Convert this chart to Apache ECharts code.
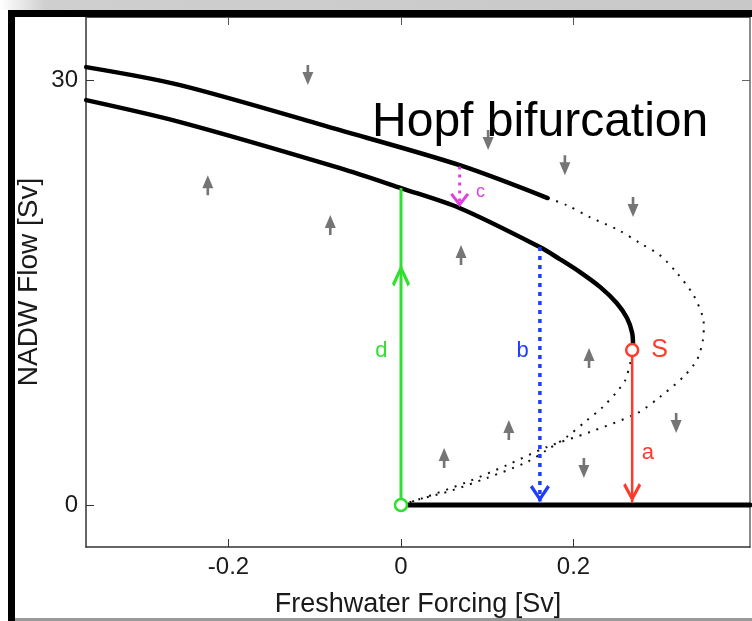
<!DOCTYPE html>
<html><head><meta charset="utf-8">
<script src="https://cdn.jsdelivr.net/npm/echarts@6/dist/echarts.min.js"></script>
<style>html,body{margin:0;padding:0;background:#fff}#c{width:752px;height:621px}</style>
</head><body><div id="c"></div>
<script>
// ---- data ----
const xTicks = [-0.2, 0, 0.2];
const yTicks = [0, 30];
const upperStableX = [-0.365, -0.256, -0.0707, 0.068, 0.170];
const upperStableY = [30.91, 29.64, 26.46, 23.99, 21.67];
const lowerStableX = [-0.365, -0.256, -0.0707, 0, 0.0684, 0.161, 0.184, 0.2075, 0.231, 0.250, 0.262, 0.268, 0.269];
const lowerStableY = [28.58, 27.03, 23.78, 22.37, 20.95, 18.21, 17.36, 16.44, 15.38, 14.26, 13.2, 12.14, 11.2];
const unstableOuterX = [0.170, 0.192, 0.219, 0.252, 0.277, 0.300, 0.320, 0.339, 0.350, 0.351, 0.350, 0.343, 0.327, 0.300, 0.274, 0.219, 0.169, 0.123, 0.0765, 0.0255, 0];
const unstableOuterY = [21.67, 21.17, 20.32, 19.41, 18.49, 17.64, 16.37, 14.82, 13.27, 12.6, 11.64, 10.23, 9.03, 7.62, 6.49, 5.15, 4.09, 2.82, 1.62, 0.49, 0];
const unstableInnerX = [0, 0.022, 0.057, 0.0997, 0.146, 0.169, 0.192, 0.216, 0.234, 0.252, 0.260, 0.266, 0.268];
const unstableInnerY = [0, 0.42, 0.99, 1.91, 3.03, 3.88, 4.80, 6.00, 6.92, 8.12, 8.82, 10.09, 10.94];
const offBranchX = [0, 0.4046];
const offBranchY = [0, 0];
// transitions a-d : x, yStart, yEnd
const transA = [0.268, 10.6, 0.15];
const transB = [0.161, 18.21, 0.25];
const transC = [0.068, 23.9, 21.2];
const transD = [0, 0, 22.37];
const arrowHeadD = [0, 16.2];
const arrowHeadB = [0.161, 0.81];
const arrowHeadA = [0.268, 0.88];
const arrowHeadC = [0.068, 21.53];
const pointS = [0.268, 10.94];
const pointOrigin = [0, 0];
// gray flow-direction arrows
const grayUpX = [-0.224, -0.082, 0.0696, 0.218, 0.125, 0.050];
const grayUpY = [22.58, 19.76, 17.64, 10.37, 5.29, 3.32];
const grayDownX = [-0.108, 0.101, 0.190, 0.269, 0.319, 0.212];
const grayDownY = [30.35, 25.76, 23.99, 21.03, 5.79, 2.61];
// text labels
const labelTexts = ['Hopf bifurcation', 'd', 'b', 'a', 'S', 'c'];
const labelX = [-0.0336, -0.030, 0.134, 0.279, 0.290, 0.087];
const labelY = [27.0, 10.9, 10.9, 3.7, 10.96, 22.1];

const zip = (a, b) => a.map((v, i) => [v, b[i]]);
const FONT = 'Liberation Sans, Arial, Helvetica, sans-serif';
const chevron = 'path://M10,0 L20,17 L17.4,19.5 L10,6.5 L2.6,19.5 L0,17 Z';
const upArrow = 'path://M5,0 L10,13 L6.2,13 L6.2,20 L3.8,20 L3.8,13 L0,13 Z';

const GREEN = '#2fe02f', BLUE = '#1e3cff', RED = '#ff3a2a', MAG = '#e040e0';
const labelColors = ['#000', GREEN, BLUE, RED, RED, MAG];
const labelSizes = [48, 22, 22, 22, 25, 18];

const chart = echarts.init(document.getElementById('c'), null, {renderer: 'canvas'});
const solid = (data, w, color, z) => ({type: 'line', data, symbol: 'none', smooth: 0.3, lineStyle: {color, width: w, cap: 'round'}, z: z || 5, silent: true, animation: false});
const dotted = (data, w, color, dash, z) => ({type: 'line', data, symbol: 'none', smooth: 0.3, lineStyle: {color, width: w, type: dash, cap: 'butt'}, z: z || 3, silent: true, animation: false});

chart.setOption({
  animation: false,
  backgroundColor: '#fff',
  grid: {left: 86, right: 2, top: 17, bottom: 74, containLabel: false, outerBoundsMode: 'none'},
  xAxis: [{
    type: 'value', min: -0.3652, max: 0.4046, position: 'bottom',
    name: 'Freshwater Forcing [Sv]', nameLocation: 'middle', nameGap: 44, nameMoveOverlap: false,
    nameTextStyle: {fontFamily: FONT, fontSize: 27, color: '#1a1a1a'},
    axisLine: {show: true, onZero: false, lineStyle: {color: '#333', width: 1.5}},
    axisTick: {show: true, inside: true, length: 8, customValues: xTicks, lineStyle: {color: '#333'}},
    axisLabel: {customValues: xTicks, fontFamily: FONT, fontSize: 24, color: '#1a1a1a', margin: 8, formatter: v => (v === 0 ? '0' : String(v))},
    splitLine: {show: false}
  }, {
    type: 'value', min: -0.3652, max: 0.4046, position: 'top',
    axisLine: {show: true, onZero: false, lineStyle: {color: '#555', width: 1}},
    axisTick: {show: true, inside: true, length: 8, customValues: xTicks, lineStyle: {color: '#555'}},
    axisLabel: {show: false}, splitLine: {show: false}
  }],
  yAxis: [{
    type: 'value', min: -2.965, max: 34.45, position: 'left',
    name: 'NADW Flow [Sv]', nameLocation: 'middle', nameGap: 43, nameMoveOverlap: false,
    nameTextStyle: {fontFamily: FONT, fontSize: 28, color: '#1a1a1a'},
    axisLine: {show: true, onZero: false, lineStyle: {color: '#333', width: 1.5}},
    axisTick: {show: true, inside: true, length: 8, customValues: yTicks, lineStyle: {color: '#333'}},
    axisLabel: {customValues: yTicks, fontFamily: FONT, fontSize: 24, color: '#1a1a1a', margin: 8},
    splitLine: {show: false}
  }, {
    type: 'value', min: -2.965, max: 34.45, position: 'right',
    axisLine: {show: true, onZero: false, lineStyle: {color: '#666', width: 1.5}},
    axisTick: {show: true, inside: true, length: 8, customValues: yTicks, lineStyle: {color: '#666'}},
    axisLabel: {show: false}, splitLine: {show: false}
  }],
  series: [
    dotted(zip(unstableOuterX, unstableOuterY), 2, '#111', [2, 7]),
    dotted(zip(unstableInnerX, unstableInnerY), 2, '#111', [2, 7]),
    solid(zip(upperStableX, upperStableY), 4.5, '#000', 6),
    solid(zip(lowerStableX, lowerStableY), 4.5, '#000', 6),
    solid(zip(offBranchX, offBranchY), 5, '#000', 6),
    {type: 'line', data: [[transD[0], transD[1]], [transD[0], transD[2]]], symbol: 'none', lineStyle: {color: GREEN, width: 3}, z: 7},
    {type: 'line', data: [[transB[0], transB[1]], [transB[0], transB[2]]], symbol: 'none', lineStyle: {color: BLUE, width: 3.5, type: [4, 5]}, z: 7},
    {type: 'line', data: [[transA[0], transA[1]], [transA[0], transA[2]]], symbol: 'none', lineStyle: {color: RED, width: 2.5}, z: 7},
    {type: 'line', data: [[transC[0], transC[1]], [transC[0], transC[2]]], symbol: 'none', lineStyle: {color: MAG, width: 3, type: [3, 5]}, z: 7},
    {type: 'scatter', z: 8, silent: true, itemStyle: {opacity: 1}, data: [
      {value: arrowHeadD, symbol: chevron, symbolSize: [18, 22], symbolRotate: 0, itemStyle: {color: GREEN, opacity: 1}},
      {value: arrowHeadB, symbol: chevron, symbolSize: [20, 17], symbolRotate: 180, itemStyle: {color: BLUE, opacity: 1}},
      {value: arrowHeadA, symbol: chevron, symbolSize: [18, 19], symbolRotate: 180, itemStyle: {color: RED, opacity: 1}},
      {value: arrowHeadC, symbol: chevron, symbolSize: [19, 14], symbolRotate: 180, itemStyle: {color: MAG, opacity: 1}}
    ]},
    {type: 'scatter', z: 4, silent: true, symbol: upArrow, symbolSize: [11, 20], itemStyle: {color: '#666', opacity: 0.9},
      data: zip(grayUpX, grayUpY)},
    {type: 'scatter', z: 4, silent: true, symbol: upArrow, symbolSize: [11, 20], symbolRotate: 180, itemStyle: {color: '#666', opacity: 0.9},
      data: zip(grayDownX, grayDownY)},
    {type: 'scatter', z: 9, silent: true, symbol: 'circle', symbolSize: 12, data: [
      {value: pointOrigin, itemStyle: {color: '#fff', borderColor: GREEN, borderWidth: 2.5, opacity: 1}},
      {value: pointS, itemStyle: {color: '#fff', borderColor: RED, borderWidth: 2.5, opacity: 1}}
    ]},
    {type: 'scatter', z: 10, silent: true, symbolSize: 0, itemStyle: {opacity: 1},
      data: labelTexts.map((t, i) => ({
        value: [labelX[i], labelY[i]],
        label: {show: true, position: [0, 0], align: 'left', verticalAlign: 'middle', formatter: t,
          fontFamily: FONT, fontSize: labelSizes[i], color: labelColors[i], opacity: 1}
      }))}
  ],
  graphic: [
    {type: 'rect', z: 100, shape: {x: 0, y: 0, width: 752, height: 10},
      style: {fill: new echarts.graphic.LinearGradient(0, 0, 1, 0, [{offset: 0, color: '#ffffff'}, {offset: 0.06, color: '#cfcfcf'}, {offset: 1, color: '#c8c8c8'}])}},
    {type: 'rect', z: 100, shape: {x: 8, y: 10, width: 744, height: 7}, style: {fill: '#000'}},
    {type: 'rect', z: 100, shape: {x: 8, y: 10, width: 7, height: 611}, style: {fill: '#000'}},
    {type: 'rect', z: 100, shape: {x: 15, y: 618, width: 737, height: 3}, style: {fill: '#9a9a9a'}}
  ]
});
</script></body></html>
